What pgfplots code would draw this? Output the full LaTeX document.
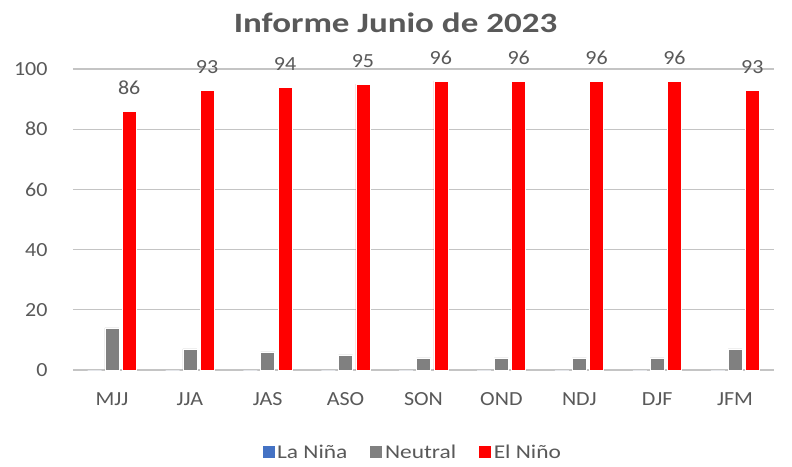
\documentclass[border=0pt]{standalone}
\usepackage{fontspec}
\setmainfont{Carlito}[FakeStretch=1.1]
\newfontfamily\widefont{Carlito}[FakeStretch=1.2]
\newfontfamily\titlefont{Carlito}[FakeStretch=1.25]
\usepackage{pgfplots}
\pgfplotsset{compat=1.18}
\definecolor{txt}{HTML}{595959}
\definecolor{nina}{HTML}{4472C4}
\definecolor{neutral}{HTML}{808080}
\definecolor{nino}{HTML}{FF0000}
\definecolor{gridc}{HTML}{C4C4C4}

\begin{document}
\begin{tikzpicture}
\fill[white] (-73pt,-96pt) rectangle (719pt,370pt);
\begin{axis}[
  scale only axis,
  width=701pt, height=301pt,
  at={(0pt,0pt)},
  xmin=-0.5, xmax=8.5,
  ymin=0, ymax=100,
  ytick={0,20,...,100},
  xtick={0,...,8},
  xticklabels={MJJ,JJA,JAS,ASO,SON,OND,NDJ,DJF,JFM},
  axis line style={draw=none},
  tick style={draw=none},
  tick label style={font=\fontsize{20}{24}\selectfont, text=txt},
  /pgf/number format/assume math mode=true,
  yticklabel style={xshift=-22pt},
  xticklabel style={yshift=-19pt},
  clip=false,
  title={\titlefont\bfseries Informe Junio de 2023},
  title style={font=\fontsize{28}{33}\selectfont, text=txt, yshift=27pt, xshift=-28pt},
  legend style={at={(0.484,-0.275)}, anchor=center, legend columns=3, draw=none,
    fill=none, font=\widefont\fontsize{19.5}{23}\selectfont, text=txt,
    /tikz/every even column/.append style={column sep=20pt}},
  legend image code/.code={\fill[#1] (-4pt,-6pt) rectangle (9pt,7pt);},
  gridline/.style={color=gridc, line width=1.3pt, forget plot, mark=none, sharp plot},
  bars/.style={ybar, bar width=14pt, draw=white, line width=0.6pt},
]
% gridlines
\addplot[gridline] coordinates {(-0.5,0) (8.5,0)};
\addplot[gridline] coordinates {(-0.5,20) (8.5,20)};
\addplot[gridline] coordinates {(-0.5,40) (8.5,40)};
\addplot[gridline] coordinates {(-0.5,60) (8.5,60)};
\addplot[gridline] coordinates {(-0.5,80) (8.5,80)};
\addplot[gridline] coordinates {(-0.5,100) (8.5,100)};
% bars
\addplot[bars, fill=nina, bar shift=-17.3pt] coordinates {(0,0) (1,0) (2,0) (3,0) (4,0) (5,0) (6,0) (7,0) (8,0)};
\addlegendentry{La Niña}
\addplot[bars, fill=neutral, bar shift=0pt] coordinates {(0,14) (1,7) (2,6) (3,5) (4,4) (5,4) (6,4) (7,4) (8,7)};
\addlegendentry{Neutral}
\addplot[bars, fill=nino, bar shift=17.3pt,
  nodes near coords,
  every node near coord/.append style={font=\fontsize{20}{24}\selectfont, text=txt, anchor=south, xshift=17.3pt, yshift=16pt, inner sep=0pt}]
  coordinates {(0,86) (1,93) (2,94) (3,95) (4,96) (5,96) (6,96) (7,96) (8,93)};
\addlegendentry{El Niño}
\end{axis}
\end{tikzpicture}
\end{document}
